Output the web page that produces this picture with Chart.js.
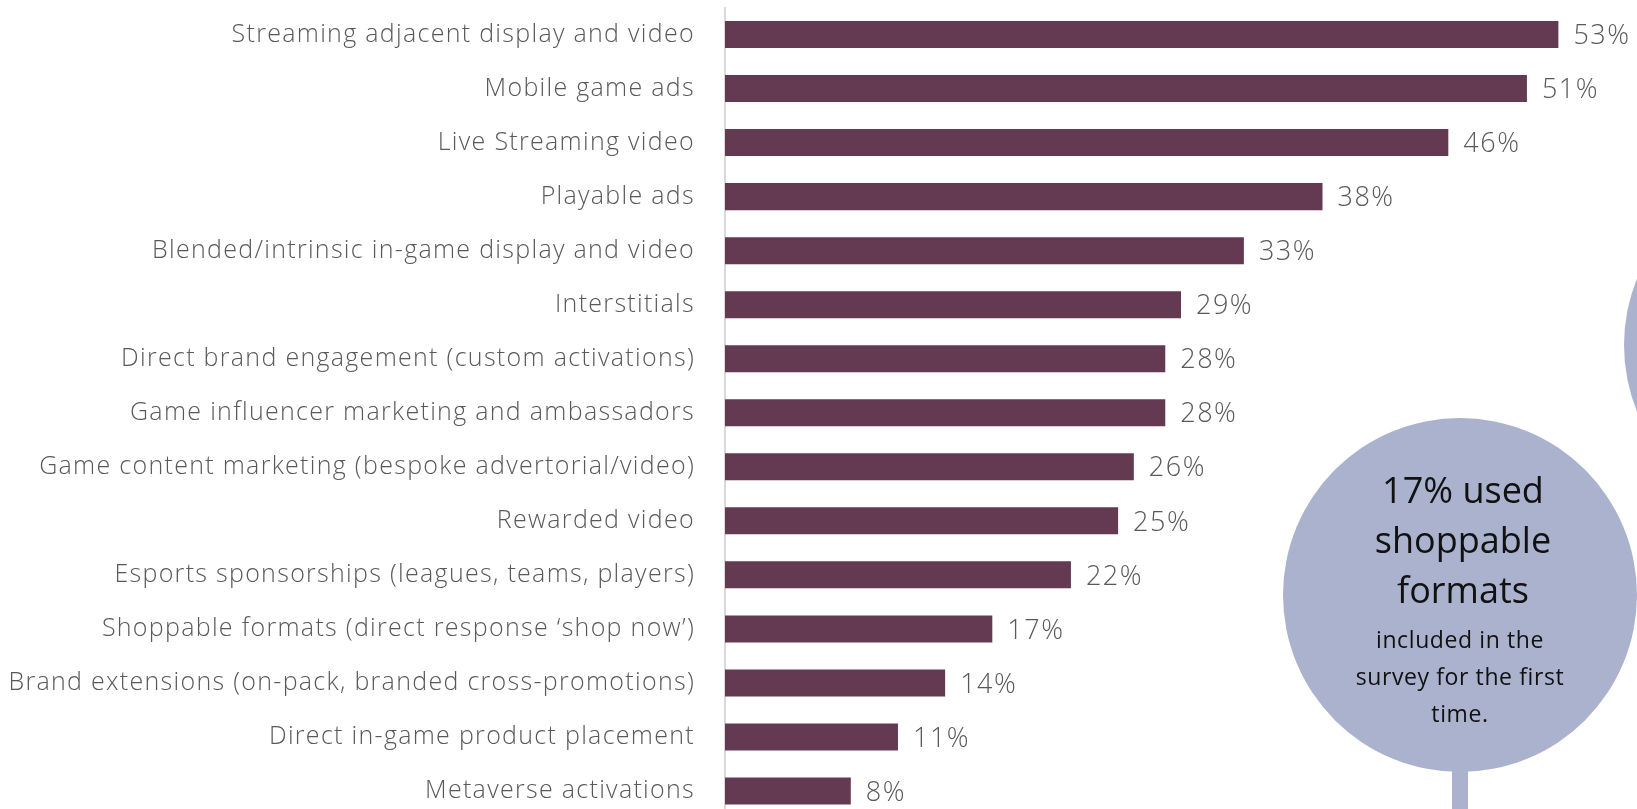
<!DOCTYPE html>
<html>
<head>
<meta charset="utf-8">
<title>Gaming ad formats used</title>
<script src="https://cdn.jsdelivr.net/npm/chart.js@4.4.1/dist/chart.umd.min.js"></script>
<style>
    html, body { margin: 0; padding: 0; background: #ffffff; overflow: hidden; }
    .wrap { position: relative; width: 1637px; height: 818px; }
</style>
</head>
<body>
<div class="wrap"><canvas id="formatsChart"></canvas></div>
<script>
const categories = [
    'Streaming adjacent display and video',
    'Mobile game ads',
    'Live Streaming video',
    'Playable ads',
    'Blended/intrinsic in-game display and video',
    'Interstitials',
    'Direct brand engagement (custom activations)',
    'Game influencer marketing and ambassadors',
    'Game content marketing (bespoke advertorial/video)',
    'Rewarded video',
    'Esports sponsorships (leagues, teams, players)',
    'Shoppable formats (direct response \u2018shop now\u2019)',
    'Brand extensions (on-pack, branded cross-promotions)',
    'Direct in-game product placement',
    'Metaverse activations'
];
const shareUsed = [53, 51, 46, 38, 33, 29, 28, 28, 26, 25, 22, 17, 14, 11, 8];

const calloutBig = ['17% used', 'shoppable', 'formats'];
const calloutSmall = ['included in the', 'survey for the first', 'time.'];

const barColor = '#643a52';
const bubbleColor = '#aab2ce';
const labelColor = '#595959';
const fontFamily = '"Open Sans", Lato, sans-serif';

// wide tracking for the axis labels
const tracking = {
    id: 'tracking',
    beforeDraw(chart) {
        chart.ctx.letterSpacing = '1.3px';
    }
};

// value labels to the right of each bar
const valueLabels = {
    id: 'valueLabels',
    afterDatasetsDraw(chart) {
        const ctx = chart.ctx;
        const meta = chart.getDatasetMeta(0);
        ctx.save();
        ctx.letterSpacing = '1.5px';
        ctx.font = '300 27px ' + fontFamily;
        ctx.fillStyle = labelColor;
        ctx.textAlign = 'left';
        ctx.textBaseline = 'middle';
        meta.data.forEach((bar, i) => {
            ctx.fillText(shareUsed[i] + '%', bar.x + 15, bar.y + 2);
        });
        ctx.restore();
    }
};

// speech-bubble callout on the right side
const callout = {
    id: 'callout',
    afterDraw(chart) {
        const ctx = chart.ctx;
        ctx.save();
        ctx.fillStyle = bubbleColor;

        // partial bubble cut off at the right edge
        ctx.beginPath();
        ctx.arc(1801, 345, 177, 0, Math.PI * 2);
        ctx.fill();

        // main bubble with its stem
        ctx.beginPath();
        ctx.arc(1460, 595, 177, 0, Math.PI * 2);
        ctx.fill();
        ctx.fillRect(1452, 740, 16, 80);

        ctx.fillStyle = '#111111';
        ctx.textAlign = 'center';
        ctx.textBaseline = 'alphabetic';
        ctx.letterSpacing = '0px';
        ctx.font = '36px ' + fontFamily;
        calloutBig.forEach((line, i) => {
            ctx.fillText(line, 1463, 503 + i * 50);
        });
        ctx.letterSpacing = '0.6px';
        ctx.font = '23px ' + fontFamily;
        calloutSmall.forEach((line, i) => {
            ctx.fillText(line, 1460, 648 + i * 37);
        });
        ctx.restore();
    }
};

document.addEventListener('DOMContentLoaded', () => {
    const ctx = document.getElementById('formatsChart');

    new Chart(ctx, {
        type: 'bar',
        data: {
            labels: categories,
            datasets: [{
                label: 'Formats used',
                data: shareUsed,
                backgroundColor: barColor,
                borderWidth: 0,
                barPercentage: 0.5,
                categoryPercentage: 1
            }]
        },
        options: {
            indexAxis: 'y',
            responsive: true,
            maintainAspectRatio: false,
            animation: false,
            layout: { padding: { top: 7.5, right: 0, bottom: 0, left: 0 } },
            plugins: {
                legend: { display: false },
                tooltip: { enabled: false }
            },
            scales: {
                x: {
                    display: false,
                    min: 0,
                    max: 58
                },
                y: {
                    grid: { display: false, drawTicks: false },
                    border: { display: true, color: '#d9d9d9', width: 2 },
                    ticks: {
                        color: labelColor,
                        padding: 30,
                        font: { family: fontFamily, size: 25, weight: 300 }
                    },
                    afterFit(scale) {
                        // fixed label column; drop the label overhang padding
                        scale.width = 725;
                        scale.paddingTop = 0;
                        scale.paddingBottom = 0;
                    }
                }
            }
        },
        plugins: [tracking, valueLabels, callout]
    });
});
</script>
</body>
</html>
